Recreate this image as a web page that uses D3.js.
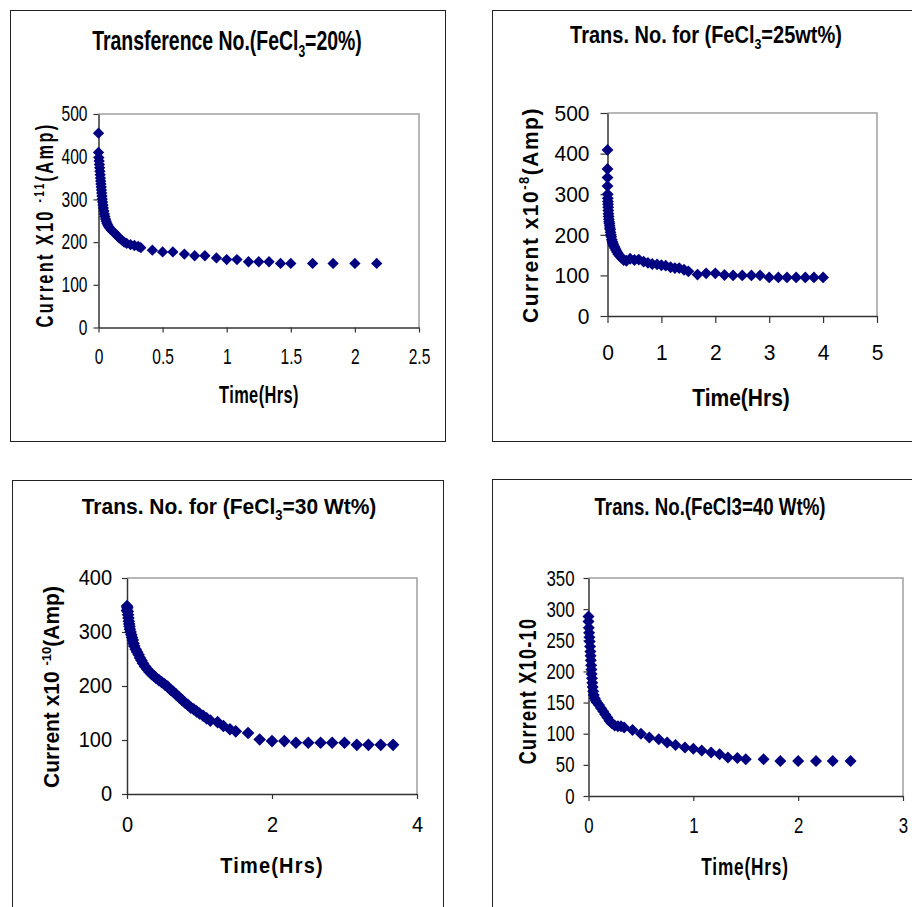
<!DOCTYPE html>
<html>
<head>
<meta charset="utf-8">
<script src="https://cdn.jsdelivr.net/npm/d3@7"></script>
<style>
  body { margin: 0; background: #fff; }
  svg text { fill: #000; }
</style>
</head>
<body>
<div id="wrapper"></div>
<script>
/*global d3*/

// FeCl3 = 20 %
const time20 = [0, 0, 0.003, 0.005, 0.007, 0.009, 0.011, 0.013, 0.015, 0.017, 0.019, 0.021, 0.023, 0.025, 0.027, 0.029,
  0.032, 0.035, 0.038, 0.042, 0.046, 0.05, 0.055, 0.06, 0.066, 0.072, 0.08, 0.09, 0.1,
  0.115, 0.13, 0.145, 0.16, 0.18, 0.2, 0.22, 0.25, 0.28, 0.31, 0.33,
  0.42, 0.5, 0.58, 0.67, 0.75, 0.83, 0.92, 1.0, 1.08, 1.17, 1.25, 1.33, 1.42, 1.5,
  1.67, 1.83, 2.0, 2.17]
const current20 = [455, 410, 398, 390, 382, 374, 366, 358, 350, 343, 336, 329, 322, 315, 308, 301,
  294, 287, 280, 273, 266, 260, 254, 249, 244, 240, 236, 232, 228,
  224, 220, 215, 210, 205, 200, 197, 194, 192, 190, 187,
  181, 177, 177, 172, 168, 168, 163, 159, 159, 154, 154, 154, 150, 150,
  150, 150, 150, 150]
const xTicks20 = [0, 0.5, 1, 1.5, 2, 2.5]
const yTicks20 = [0, 100, 200, 300, 400, 500]

// FeCl3 = 25 wt%
const time25 = [0, 0, 0, 0, 0.004, 0.006, 0.008, 0.01, 0.012, 0.015, 0.018, 0.021, 0.025, 0.03,
  0.035, 0.04, 0.045, 0.05, 0.056, 0.063, 0.07, 0.08, 0.09, 0.1,
  0.11, 0.125, 0.14, 0.16, 0.18, 0.2, 0.23, 0.26, 0.3, 0.35,
  0.42, 0.5, 0.58, 0.67, 0.75, 0.83, 0.92, 1.0, 1.08, 1.17, 1.25, 1.33, 1.42, 1.5,
  1.67, 1.83, 2.0, 2.17, 2.33, 2.5, 2.67, 2.83, 3.0, 3.17, 3.33, 3.5, 3.67, 3.83, 4.0]
const current25 = [409, 362, 341, 320, 300, 290, 282, 275, 268, 260, 252, 245, 238, 232,
  228, 222, 217, 213, 206, 200, 195, 188, 183, 179,
  175, 171, 167, 162, 157, 152, 148, 143, 138, 136,
  141, 138, 139, 134, 131, 128, 127, 125, 124, 120, 118, 118, 114, 110,
  102, 105, 105, 101, 100, 100, 100, 100, 95, 95, 95, 95, 95, 95, 95]
const xTicks25 = [0, 1, 2, 3, 4, 5]
const yTicks25 = [0, 100, 200, 300, 400, 500]

// FeCl3 = 30 wt%
const time30 = [0, 0, 0.005, 0.01, 0.015, 0.02, 0.025, 0.03, 0.035, 0.04,
  0.05, 0.06, 0.07, 0.08, 0.09, 0.1, 0.12, 0.14, 0.16, 0.18,
  0.2, 0.22, 0.25, 0.28, 0.31, 0.34, 0.37, 0.4, 0.44, 0.48,
  0.52, 0.56, 0.6, 0.64, 0.68, 0.72, 0.76, 0.8, 0.84, 0.88,
  0.92, 0.96, 1.0, 1.05, 1.1, 1.15, 1.25, 1.33, 1.42, 1.5,
  1.67, 1.83, 2.0, 2.17, 2.33, 2.5, 2.67, 2.83, 3.0, 3.17,
  3.33, 3.5, 3.67]
const current30 = [348, 340, 345, 338, 332, 326, 320, 315, 310, 305,
  300, 295, 290, 285, 279, 274, 268, 263, 258, 252,
  247, 242, 236, 231, 226, 222, 219, 215, 211, 207,
  203, 199, 193, 189, 184, 179, 174, 169, 165, 160,
  157, 153, 149, 145, 140, 136, 133, 126, 120, 116,
  113, 101, 98, 98, 95, 95, 95, 95, 95, 91,
  91, 91, 91]
const xTicks30 = [0, 2, 4]
const yTicks30 = [0, 100, 200, 300, 400]

// FeCl3 = 40 wt%
const time40 = [0, 0, 0.003, 0.006, 0.009, 0.012, 0.015, 0.018, 0.02, 0.022,
  0.025, 0.028, 0.03, 0.033, 0.036, 0.04, 0.045, 0.05, 0.06, 0.07,
  0.08, 0.1, 0.12, 0.14, 0.16, 0.18, 0.2, 0.22, 0.25, 0.28,
  0.31, 0.34, 0.42, 0.5, 0.58, 0.67, 0.75, 0.83, 0.92, 1.0,
  1.08, 1.17, 1.25, 1.33, 1.42, 1.5, 1.67, 1.83, 2.0, 2.17,
  2.33, 2.5]
const current40 = [288, 280, 270, 262, 255, 248, 240, 232, 225, 218,
  210, 203, 196, 189, 182, 175, 168, 162, 157, 153,
  150, 146, 141, 136, 131, 126, 121, 117, 113, 112,
  112, 110, 106, 100, 94, 91, 86, 82, 78, 76,
  73, 70, 67, 62, 61, 59, 59, 56, 56, 56,
  56, 56]
const xTicks40 = [0, 1, 2, 3]
const yTicks40 = [0, 50, 100, 150, 200, 250, 300, 350]

const FONT = "'Liberation Sans', Arial, sans-serif"

// sx / sy squeeze or stretch the glyphs to copy the look of the scanned figure
const panels = [
  {
    time: time20, current: current20, xTicks: xTicks20, yTicks: yTicks20,
    frame: [10.5, 10.5, 435, 431],
    plot: { left: 98.5, top: 114, right: 419, bottom: 327.5 },
    tick: { size: 19, sx: 0.82, sy: 1.12, len: 5, xPad: 16, yPad: 6 },
    title: { parts: [["Transference No.(FeCl", ""], ["3", "sub"], ["=20%)", ""]],
      x: 227, y: 50, size: 24, sx: 0.81, sy: 1.12, spacing: 0 },
    xLabel: { parts: [["Time(Hrs)", ""]], x: 259, y: 403, size: 20, sx: 0.82, sy: 1.15, spacing: 0.5 },
    yLabel: { parts: [["Current X10 ", ""], ["-11", "sup"], ["(Amp)", ""]],
      x: 53, y: 225, size: 20, sx: 0.82, sy: 1.15, spacing: 2.8 },
    r: 64
  },
  {
    time: time25, current: current25, xTicks: xTicks25, yTicks: yTicks25,
    frame: [492.5, 10.5, 440, 431],
    plot: { left: 607.5, top: 113, right: 877, bottom: 316 },
    tick: { size: 21, sx: 1, sy: 1.08, len: 7, xPad: 21, yPad: 11 },
    title: { parts: [["Trans. No. for (FeCl", ""], ["3", "sub"], ["=25wt%)", ""]],
      x: 706, y: 43, size: 20, sx: 1, sy: 1.15, spacing: 0 },
    xLabel: { parts: [["Time(Hrs)", ""]], x: 741, y: 406, size: 21, sx: 1, sy: 1.1, spacing: 0 },
    yLabel: { parts: [["Current x10", ""], ["-8", "sup"], ["(Amp)", ""]],
      x: 538, y: 215, size: 21, sx: 1, sy: 1.08, spacing: 1.5 },
    r: 70
  },
  {
    time: time30, current: current30, xTicks: xTicks30, yTicks: yTicks30,
    frame: [12.5, 480.5, 431, 440],
    plot: { left: 127, top: 578, right: 417, bottom: 794 },
    tick: { size: 20, sx: 1, sy: 1.08, len: 5, xPad: 18, yPad: 10 },
    title: { parts: [["Trans. No. for (FeCl", ""], ["3", "sub"], ["=30 Wt%)", ""]],
      x: 229, y: 514, size: 21, sx: 1, sy: 1.08, spacing: 0 },
    xLabel: { parts: [["Time(Hrs)", ""]], x: 272, y: 873, size: 20, sx: 1, sy: 1.08, spacing: 1.2 },
    yLabel: { parts: [["Current x10 ", ""], ["-10", "sup"], ["(Amp)", ""]],
      x: 59, y: 687, size: 21, sx: 1, sy: 1.05, spacing: 0 },
    r: 80
  },
  {
    time: time40, current: current40, xTicks: xTicks40, yTicks: yTicks40,
    frame: [492.5, 479.5, 440, 440],
    plot: { left: 588.5, top: 578, right: 903, bottom: 796 },
    tick: { size: 20, sx: 0.84, sy: 1.1, len: 5, xPad: 16, yPad: 9 },
    title: { parts: [["Trans. No.(FeCl3=40 Wt%)", ""]],
      x: 710, y: 515, size: 22, sx: 0.85, sy: 1.12, spacing: 0 },
    xLabel: { parts: [["Time(Hrs)", ""]], x: 745, y: 875, size: 21, sx: 0.82, sy: 1.15, spacing: 1 },
    yLabel: { parts: [["Current X10-10", ""]],
      x: 536, y: 691, size: 21, sx: 0.86, sy: 1.15, spacing: 1.5 },
    r: 72
  }
]

const svg = d3.select("#wrapper")
  .append("svg")
  .attr("width", 912)
  .attr("height", 907)

// bold text with optional sub/superscript pieces, squeezed by sx/sy
function addText(g, t, rotate) {
  const text = g.append("text")
    .attr("transform", `translate(${t.x},${t.y})${rotate ? " rotate(-90)" : ""} scale(${t.sx},${t.sy})`)
    .attr("text-anchor", "middle")
    .attr("font-family", FONT)
    .attr("font-weight", "bold")
    .attr("font-size", t.size)
    .attr("letter-spacing", t.spacing)
  let back = 0
  t.parts.forEach(([str, kind]) => {
    const span = text.append("tspan").attr("font-size", t.size).text(str)
    let dy = back
    if (kind === "sub") {
      span.attr("font-size", t.size * 0.62)
      dy += t.size * 0.25
      back = -t.size * 0.25
    } else if (kind === "sup") {
      span.attr("font-size", t.size * 0.62)
      dy -= t.size * 0.38
      back = t.size * 0.38
    } else {
      back = 0
    }
    if (dy) span.attr("dy", dy)
  })
}

function drawPanel(p) {
  const g = svg.append("g")

  g.append("rect")
    .attr("x", p.frame[0]).attr("y", p.frame[1])
    .attr("width", p.frame[2]).attr("height", p.frame[3])
    .attr("fill", "#fff")
    .attr("stroke", "#222")
    .attr("stroke-width", 1)

  const xScale = d3.scaleLinear()
    .domain(d3.extent(p.xTicks))
    .range([p.plot.left, p.plot.right])
  const yScale = d3.scaleLinear()
    .domain(d3.extent(p.yTicks))
    .range([p.plot.bottom, p.plot.top])

  // gray plot-area border (top + right)
  g.append("path")
    .attr("d", `M${p.plot.left},${p.plot.top}H${p.plot.right}V${p.plot.bottom}`)
    .attr("fill", "none")
    .attr("stroke", "#a0a0a0")
    .attr("stroke-width", 1.5)

  const xAxis = g.append("g")
    .attr("transform", `translate(0,${p.plot.bottom})`)
    .call(d3.axisBottom(xScale)
      .tickValues(p.xTicks)
      .tickFormat(d => String(d))
      .tickSizeInner(p.tick.len)
      .tickSizeOuter(0)
      .tickPadding(p.tick.xPad))
  const yAxis = g.append("g")
    .attr("transform", `translate(${p.plot.left},0)`)
    .call(d3.axisLeft(yScale)
      .tickValues(p.yTicks)
      .tickFormat(d => String(d))
      .tickSizeInner(p.tick.len)
      .tickSizeOuter(0)
      .tickPadding(p.tick.yPad))

  ;[xAxis, yAxis].forEach(ax => {
    ax.select(".domain").attr("stroke", "#333").attr("stroke-width", 1.5)
    ax.selectAll(".tick line").attr("stroke", "#333").attr("stroke-width", 1.2)
    ax.selectAll(".tick text")
      .attr("font-family", FONT)
      .attr("font-size", p.tick.size)
      .attr("fill", "#000")
      .each(function () {
        const el = d3.select(this)
        el.attr("x", (+el.attr("x") || 0) / p.tick.sx)
          .attr("y", (+el.attr("y") || 0) / p.tick.sy)
          .attr("transform", `scale(${p.tick.sx},${p.tick.sy})`)
      })
  })

  const diamond = d3.symbol().type(d3.symbolSquare).size(p.r)
  g.append("g")
    .selectAll("path")
    .data(p.time.map((t, i) => [t, p.current[i]]))
    .join("path")
    .attr("d", diamond)
    .attr("transform", d => `translate(${xScale(d[0])},${yScale(d[1])}) rotate(45)`)
    .attr("fill", "#000080")

  addText(g, p.title, false)
  addText(g, p.xLabel, false)
  addText(g, p.yLabel, true)
}

panels.forEach(drawPanel)
</script>
</body>
</html>
